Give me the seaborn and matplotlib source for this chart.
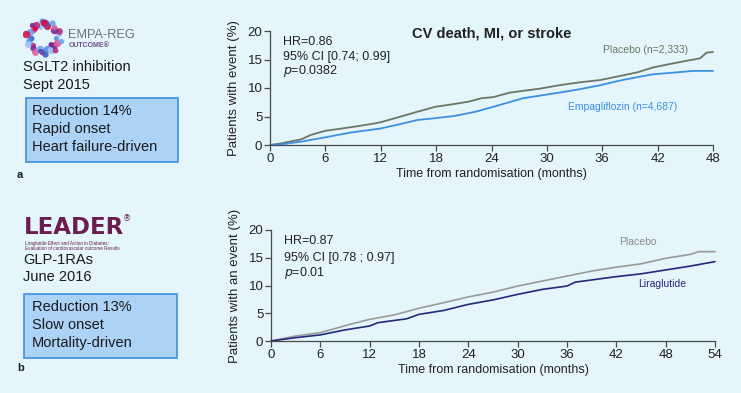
import numpy as np
import pandas as pd
import matplotlib
matplotlib.use('Agg')
import matplotlib.pyplot as plt
import seaborn as sns
from matplotlib.patches import Rectangle

sns.set_style('ticks')
plt.rcParams['font.family'] = ['Liberation Sans', 'DejaVu Sans']

## values (months, % with event)
empa_months = [0, 1.6, 3.4, 6, 8.8, 12, 14.2, 16, 17.9, 20, 22.3, 24.2, 27.4, 31.4, 33.6, 35.8, 37.9,
               40.1, 41.5, 44.1, 45.8, 48]
empa_drug = [0, 0.2, 0.6, 1.35, 2.2, 2.9, 3.7, 4.4, 4.7, 5.1, 5.85, 6.7, 8.2, 9.2, 9.8, 10.5, 11.3,
             12.0, 12.4, 12.75, 13.0, 13.0]
empa_pbo_months = [0, 0.9, 3.4, 4.4, 6, 7.4, 9.5, 11.4, 12, 14.2, 16, 17.9, 19.6, 21.5, 22.9, 24.2, 26,
                   29.3, 31.4, 33.6, 35.8, 37.9, 39.8, 41.5, 43.3, 45.2, 46.6, 47.3, 48]
empa_pbo = [0, 0.2, 1.0, 1.75, 2.5, 2.8, 3.3, 3.8, 4.0, 5.0, 5.85, 6.7, 7.1, 7.6, 8.2, 8.4, 9.2,
            9.9, 10.5, 11.0, 11.4, 12.1, 12.75, 13.6, 14.2, 14.8, 15.2, 16.2, 16.3]

lead_months = [0, 3, 6, 9, 12, 13, 15, 16.5, 18, 21, 24, 27, 30, 33, 36, 37, 39, 42, 45, 48, 51, 54]
lead_drug = [0, 0.6, 1.1, 2.0, 2.7, 3.3, 3.7, 4.0, 4.8, 5.5, 6.6, 7.4, 8.4, 9.3, 9.9, 10.6, 11.0, 11.6, 12.1, 12.8, 13.5, 14.3]
lead_pbo_months = [0, 3, 6, 9.6, 12, 15, 18, 21, 24, 27, 30, 33, 36, 39, 42, 45, 48, 51, 52, 54]
lead_pbo = [0, 0.9, 1.5, 3.0, 3.9, 4.7, 5.9, 6.9, 7.95, 8.8, 9.9, 10.8, 11.7, 12.6, 13.3, 13.9, 14.9, 15.6, 16.1, 16.1]

empa_ticks = [0, 6, 12, 18, 24, 30, 36, 42, 48]
lead_ticks = [0, 6, 12, 18, 24, 30, 36, 42, 48, 54]
y_ticks = [0, 5, 10, 15, 20]

bg = '#e4f5fc'
box_face = '#acd2f6'
box_edge = '#3d8fe6'
spine_col = '#4a4a4a'

fig = plt.figure(figsize=(7.41, 3.93), dpi=100)
fig.patch.set_facecolor(bg)
W, H = 741, 393


def px_axes(x0, y0, x1, y1):
    return fig.add_axes([x0 / W, 1 - y1 / H, (x1 - x0) / W, (y1 - y0) / H])


ax1 = px_axes(270, 31, 713, 145)
ax2 = px_axes(271, 230, 715, 341)

df1 = pd.concat([
    pd.DataFrame({'month': empa_pbo_months, 'pct': empa_pbo, 'arm': 'Placebo'}),
    pd.DataFrame({'month': empa_months, 'pct': empa_drug, 'arm': 'Empagliflozin'}),
])
df2 = pd.concat([
    pd.DataFrame({'month': lead_pbo_months, 'pct': lead_pbo, 'arm': 'Placebo'}),
    pd.DataFrame({'month': lead_months, 'pct': lead_drug, 'arm': 'Liraglutide'}),
])

sns.lineplot(data=df1, x='month', y='pct', hue='arm', ax=ax1,
             palette={'Placebo': '#6d7565', 'Empagliflozin': '#3d8fe3'}, lw=1.3, legend=False)
sns.lineplot(data=df2, x='month', y='pct', hue='arm', ax=ax2,
             palette={'Placebo': '#9a9a9a', 'Liraglutide': '#222a7c'}, lw=1.2, legend=False)

for ax, xt, xmax, ylab in [(ax1, empa_ticks, 48, 'Patients with event (%)'),
                           (ax2, lead_ticks, 54, 'Patients with an event (%)')]:
    ax.set_facecolor(bg)
    ax.set_xlim(0, xmax)
    ax.set_ylim(0, 20)
    ax.set_xticks(xt)
    ax.set_yticks(y_ticks)
    for s in ['top', 'right']:
        ax.spines[s].set_visible(False)
    for s in ['left', 'bottom']:
        ax.spines[s].set_color(spine_col)
        ax.spines[s].set_linewidth(0.9)
    ax.tick_params(direction='out', length=4, width=0.9, color=spine_col,
                   labelsize=9.5, labelcolor='#222222', pad=1.5)
    ax.set_xlabel('Time from randomisation (months)', fontsize=9, color='#222222')
    ax.set_ylabel(ylab, fontsize=9.5, color='#222222')
    ax.yaxis.set_label_coords(-0.068, 0.5)
    for ln in ax.lines:
        ln.set_clip_on(False)

ax1.xaxis.set_label_coords(0.5, -0.2)
ax2.xaxis.set_label_coords(0.5, -0.21)

ax1.text(0.5, 0.98, 'CV death, MI, or stroke', transform=ax1.transAxes, ha='center', va='center',
         fontsize=10.5, fontweight='bold', color='#222222')
ax1.text(0.03, 0.905, 'HR=0.86', transform=ax1.transAxes, fontsize=9, va='center', color='#222222')
ax1.text(0.03, 0.775, '95% CI [0.74; 0.99]', transform=ax1.transAxes, fontsize=9, va='center', color='#222222')
ax1.text(0.03, 0.645, '$\\it{p}$=0.0382', transform=ax1.transAxes, fontsize=9, va='center', color='#222222')
ax1.text(45.3, 16.7, 'Placebo (n=2,333)', ha='right', va='center', fontsize=7.5, color='#6d7565')
ax1.text(44.1, 6.7, 'Empagliflozin (n=4,687)', ha='right', va='center', fontsize=7.5, color='#3d8fe3')

ax2.text(0.03, 0.9, 'HR=0.87', transform=ax2.transAxes, fontsize=9, va='center', color='#222222')
ax2.text(0.03, 0.75, '95% CI [0.78 ; 0.97]', transform=ax2.transAxes, fontsize=9, va='center', color='#222222')
ax2.text(0.03, 0.61, '$\\it{p}$=0.01', transform=ax2.transAxes, fontsize=9, va='center', color='#222222')
ax2.text(44.6, 17.8, 'Placebo', ha='center', va='center', fontsize=7.5, color='#8a8a8a')
ax2.text(47.6, 10.3, 'Liraglutide', ha='center', va='center', fontsize=7.5, color='#222a7c')


def ftext(x, y, s, **kw):
    fig.text(x / W, 1 - y / H, s, **kw)


# left panel a: EMPA-REG logo (ring of dots)
logo = px_axes(23, 18, 64, 57)
logo.set_axis_off()
dot_cols = ['#4a8fe0', '#7a2a90', '#d3124f', '#9fc3f2', '#e25e9c', '#3b5fc8', '#b03080', '#6aa6ee']
ang = np.linspace(0, 2 * np.pi, 30, endpoint=False)
for i, a in enumerate(ang):
    r = 1.0 + 0.15 * ((i * 7) % 3 - 1)
    logo.scatter(r * np.cos(a), r * np.sin(a), s=14 + (i * 5) % 18, color=dot_cols[(i * 3) % len(dot_cols)],
                 alpha=0.9, lw=0)
logo.scatter([-0.55, 0.5, 0.05, -0.2], [0.6, -0.5, 1.0, -0.95], s=[16, 14, 24, 12],
             color=['#d3124f', '#7a2a90', '#d3124f', '#3b5fc8'], lw=0)
logo.set_xlim(-1.35, 1.35)
logo.set_ylim(-1.35, 1.35)
ftext(68, 35, 'EMPA-REG', fontsize=9.2, color='#6b7480', va='center')
ftext(69, 45.5, 'OUTCOME\u00ae', fontsize=5, color='#6a4f86', va='center', fontweight='bold')
ftext(23, 67, 'SGLT2 inhibition', fontsize=10.5, color='#1a1a1a', va='center')
ftext(23, 85, 'Sept 2015', fontsize=10.5, color='#1a1a1a', va='center')
fig.patches.append(Rectangle((26 / W, 1 - 162 / H), 152 / W, 64 / H, transform=fig.transFigure,
                             facecolor=box_face, edgecolor=box_edge, lw=1.2))
for yy, s in zip([111, 129, 147], ['Reduction 14%', 'Rapid onset', 'Heart failure-driven']):
    ftext(32, yy, s, fontsize=10.5, color='#1a1a1a', va='center')
ftext(17, 175, 'a', fontsize=8, fontweight='bold', color='#1a1a1a', va='center')

# left panel b: LEADER logo
ftext(24, 234, 'LEADER', fontsize=16.5, fontweight='heavy', color='#6b1d4f', va='baseline',
      family='DejaVu Sans')
ftext(123, 219, '\u00ae', fontsize=6, color='#6b1d4f', va='center', family='DejaVu Sans')
ftext(25, 240.5, 'Liraglutide Effect and Action in Diabetes:\nEvaluation of cardiovascular outcome Results',
      fontsize=3.3, color='#6b1d4f', va='top', linespacing=1.1)
ftext(23, 260, 'GLP-1RAs', fontsize=10.5, color='#1a1a1a', va='center')
ftext(23, 277, 'June 2016', fontsize=10.5, color='#1a1a1a', va='center')
fig.patches.append(Rectangle((24 / W, 1 - 358 / H), 153 / W, 64 / H, transform=fig.transFigure,
                             facecolor=box_face, edgecolor=box_edge, lw=1.2))
for yy, s in zip([307, 325, 343], ['Reduction 13%', 'Slow onset', 'Mortality-driven']):
    ftext(32, yy, s, fontsize=10.5, color='#1a1a1a', va='center')
ftext(17, 368, 'b', fontsize=8, fontweight='bold', color='#1a1a1a', va='center')

fig.savefig('out.png', dpi=100, facecolor=fig.get_facecolor())
